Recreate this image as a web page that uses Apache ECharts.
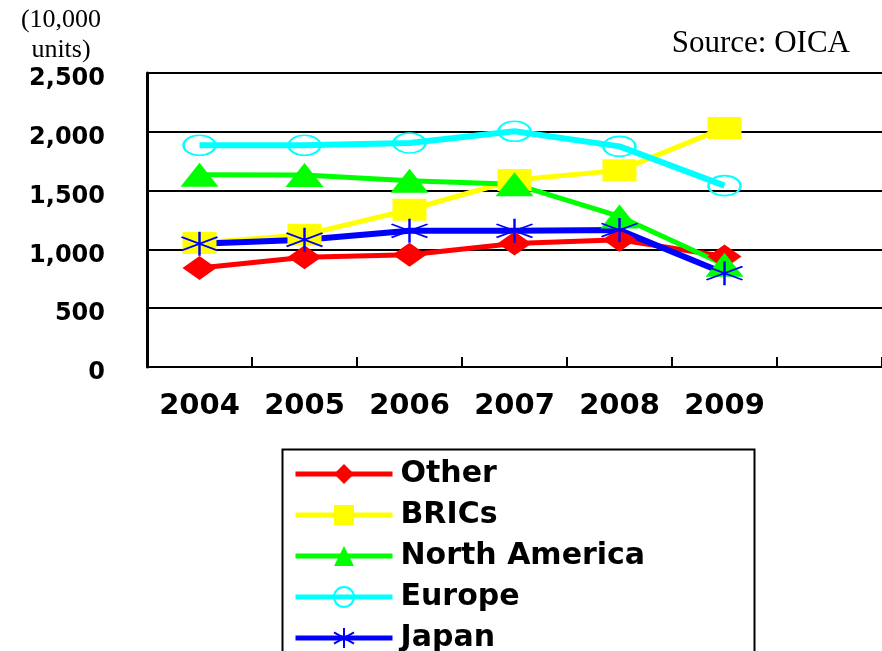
<!DOCTYPE html>
<html>
<head>
<meta charset="utf-8">
<script src="https://cdn.jsdelivr.net/npm/echarts@6/dist/echarts.min.js"></script>
<style>
  html, body { margin: 0; padding: 0; background: #fff; }
  #chart { width: 882px; height: 651px; }
</style>
</head>
<body>
<div id="chart"></div>
<script>
// Vehicle production by region, 2004-2009 (unit: 10,000 units)
const years = ['2004', '2005', '2006', '2007', '2008', '2009', ''];
const yTicks = [0, 500, 1000, 1500, 2000, 2500];

const other        = [841, 934, 954, 1050, 1082, 940];
const brics        = [1054, 1124, 1337, 1590, 1672, 2033];
const northAmerica = [1635, 1632, 1584, 1555, 1280, 869];
const europe       = [1885, 1885, 1905, 2004, 1876, 1542];
const japan        = [1048, 1082, 1158, 1158, 1164, 798];

// six-armed asterisk marker, stroked
const asterisk = 'path://M50 0 L50 100 M0 22 L100 78 M0 78 L100 22';

function lineSeries(name, data, color, symbol, size, width, extraItem) {
  return {
    name: name,
    type: 'line',
    data: data,
    symbol: symbol,
    symbolSize: size,
    showAllSymbol: true,
    lineStyle: { color: color, width: width },
    itemStyle: Object.assign({ color: color }, extraItem || {}),
    emphasis: { disabled: true },
    animation: false
  };
}

const chart = echarts.init(document.getElementById('chart'));
chart.setOption({
  backgroundColor: '#ffffff',
  animation: false,
  grid: { left: 147, top: 73, right: -4, bottom: 284, containLabel: false },
  xAxis: {
    type: 'category',
    data: years,
    boundaryGap: true,
    axisLine: { lineStyle: { color: '#000', width: 2 } },
    axisTick: { show: true, inside: true, length: 10, lineStyle: { color: '#000', width: 2 } },
    axisLabel: {
      color: '#000', fontFamily: 'DejaVu Sans', fontWeight: 'bold', fontSize: 29, margin: 25
    },
    splitLine: { show: false }
  },
  yAxis: {
    type: 'value',
    min: yTicks[0],
    max: yTicks[yTicks.length - 1],
    interval: yTicks[1] - yTicks[0],
    axisLine: { show: true, lineStyle: { color: '#000', width: 3 } },
    axisTick: { show: false },
    axisLabel: {
      color: '#000', fontFamily: 'DejaVu Sans', fontWeight: 'bold', fontSize: 24, margin: 42,
      verticalAlign: 'top', lineHeight: 12,
      formatter: v => v.toLocaleString('en-US')
    },
    splitLine: { show: true, lineStyle: { color: '#000', width: 2 } }
  },
  legend: {
    orient: 'vertical',
    left: 293,
    top: 459,
    height: 400,
    itemWidth: 97,
    itemHeight: 25,
    itemGap: 11,
    padding: 0,
    selectedMode: false,
    lineStyle: { width: 5 },
    textStyle: {
      color: '#000', fontFamily: 'DejaVu Sans', fontWeight: 'bold', fontSize: 30,
      padding: [0, 0, 0, 3]
    },
    data: ['Other', 'BRICs', 'North America', 'Europe', 'Japan']
  },
  graphic: [
    {
      type: 'rect', left: 280, top: 447, z: 0,
      shape: { width: 472, height: 240 },
      style: { fill: 'none', stroke: '#000', lineWidth: 2 }
    },
    {
      type: 'text', x: 61, y: 5,
      style: {
        text: '(10,000\nunits)', fill: '#000', fontFamily: 'Liberation Serif',
        fontSize: 26, lineHeight: 30, align: 'center', verticalAlign: 'top'
      }
    },
    {
      type: 'text', right: 32, top: 28,
      style: {
        text: 'Source: OICA', fill: '#000', fontFamily: 'Liberation Serif', fontSize: 31
      }
    }
  ],
  series: [
    lineSeries('Other', other, '#ff0000', 'diamond', [34, 24], 5),
    lineSeries('BRICs', brics, '#ffff00', 'rect', [34, 22], 5),
    lineSeries('North America', northAmerica, '#00ff00', 'triangle', [38, 24], 5),
    lineSeries('Europe', europe, '#00ffff', 'circle', [32, 20], 6,
      { color: 'transparent', borderColor: '#00ffff', borderWidth: 2 }),
    lineSeries('Japan', japan, '#0000ff', asterisk, [36, 24], 6,
      { borderColor: '#0000ff', borderWidth: 2 })
  ]
});
</script>
</body>
</html>
